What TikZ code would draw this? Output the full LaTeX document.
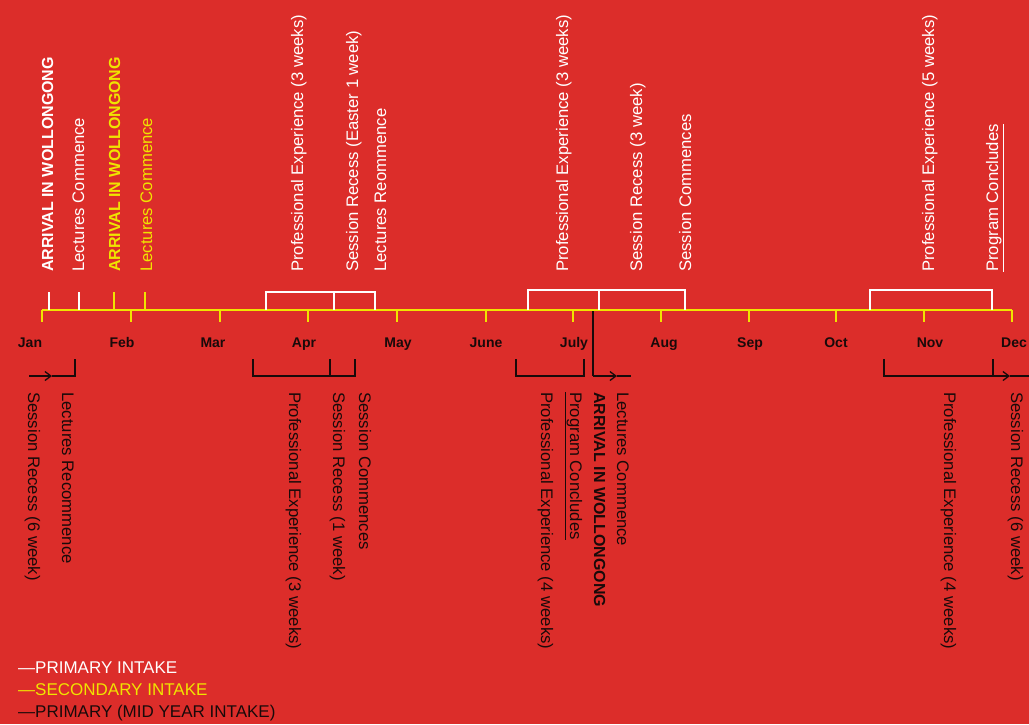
\documentclass[tikz,border=0pt]{standalone}
\usepackage{fontspec}
\setmainfont{Liberation Sans}
\usetikzlibrary{arrows.meta}
\definecolor{bg}{RGB}{220,45,42}
\definecolor{yel}{RGB}{240,228,0}
\definecolor{blk}{RGB}{25,10,10}
\tikzset{
  lbl/.style={inner sep=0pt, font=\fontsize{16.7}{18}\selectfont},
  bold/.style={font=\fontsize{16}{18}\selectfont\bfseries},
  up/.style={lbl, rotate=90, anchor=base west},
  dn/.style={lbl, rotate=-90, anchor=base west},
  month/.style={inner sep=0pt, anchor=base, text=blk, font=\fontsize{14}{16}\selectfont\bfseries},
  axisline/.style={draw=yel, line width=1.8pt},
  wline/.style={draw=white, line width=1.3pt},
  yline/.style={draw=yel, line width=1.3pt},
  kline/.style={draw=blk, line width=1.3pt},
  karrow/.style={kline, -{Straight Barb[length=6pt,width=9pt]}},
  legend/.style={inner sep=0pt, anchor=base west, font=\fontsize{17}{18}\selectfont},
}
\begin{document}
\begin{tikzpicture}[x=1pt,y=-1pt]
\fill[bg] (0,0) rectangle (1029,724);
\useasboundingbox (0,0) rectangle (1029,724);

% axis
\coordinate (a0) at (42,310);
\coordinate (a1) at (1012,310);
\draw[axisline] (a0) -- (a1);
\foreach \x in {42,131,220,308,397,486,573,661,749,836,924,1012}{
  \draw[yline] (\x,310) -- (\x,322);
}
% month labels
\node[month] (mJan) at (30,347) {Jan};
\node[month] (mFeb) at (122,347) {Feb};
\node[month] (mMar) at (213,347) {Mar};
\node[month] (mApr) at (304,347) {Apr};
\node[month] (mMay) at (398,347) {May};
\node[month] (mJun) at (486,347) {June};
\node[month] (mJul) at (574,347) {July};
\node[month] (mAug) at (664,347) {Aug};
\node[month] (mSep) at (750,347) {Sep};
\node[month] (mOct) at (836,347) {Oct};
\node[month] (mNov) at (930,347) {Nov};
\node[month,anchor=base west] (mDec) at (1001,347) {Dec};

% top markers
\draw[wline] (49,310) -- (49,292);
\draw[wline] (79,310) -- (79,292);
\draw[yline] (114,310) -- (114,292);
\draw[yline] (145,310) -- (145,292);
\draw[wline] (266,310) -- (266,292) -- (375,292) -- (375,310);
\draw[wline] (334,292) -- (334,310);
\draw[wline] (528,310) -- (528,290) -- (685,290) -- (685,310);
\draw[wline] (599,290) -- (599,310);
\draw[wline] (870,310) -- (870,290) -- (992,290) -- (992,310);

% top labels
\node[up,bold,text=white] (t1) at (53,272) {ARRIVAL IN WOLLONGONG};
\node[up,text=white] (t2) at (84,272) {Lectures Commence};
\node[up,bold,text=yel] (t3) at (120,272) {ARRIVAL IN WOLLONGONG};
\node[up,text=yel] (t4) at (152,272) {Lectures Commence};
\node[up,text=white] (t5) at (303,272) {Professional Experience (3 weeks)};
\node[up,text=white] (t6) at (358,272) {Session Recess (Easter 1 week)};
\node[up,text=white] (t7) at (386,272) {Lectures Reommence};
\node[up,text=white] (t8) at (568,272) {Professional Experience (3 weeks)};
\node[up,text=white] (t9) at (642,272) {Session Recess (3 week)};
\node[up,text=white] (t10) at (691,272) {Session Commences};
\node[up,text=white] (t11) at (934,272) {Professional Experience (5 weeks)};
\node[up,text=white] (t12) at (998,272) {\underline{Program Concludes}};

% bottom markers
\coordinate (j0) at (29,376);
\coordinate (j1) at (52,376);
\draw[karrow] (j0) -- (j1);
\draw[kline] (j1) -- (75,376) -- (75,359);
\draw[kline] (253,359) -- (253,376) -- (355,376) -- (355,359);
\draw[kline] (330,359) -- (330,376);
\draw[kline] (516,359) -- (516,376) -- (584,376) -- (584,359);
\coordinate (k0) at (593,311);
\coordinate (k1) at (593,376);
\coordinate (k2) at (617,376);
\draw[kline] (k0) -- (k1);
\draw[karrow] (k1) -- (k2);
\draw[kline] (k2) -- (631,376);
\draw[kline] (884,359) -- (884,376) -- (993,376) -- (993,359);
\coordinate (n1) at (1010,376);
\draw[karrow] (993,376) -- (n1);
\draw[kline] (n1) -- (1029,376);

% bottom labels
\node[dn,text=blk] (b1) at (28,392) {Session Recess (6 week)};
\node[dn,text=blk] (b2) at (62,392) {Lectures Recommence};
\node[dn,text=blk] (b3) at (289,392) {Professional Experience (3 weeks)};
\node[dn,text=blk] (b4) at (333,392) {Session Recess (1 week)};
\node[dn,text=blk] (b5) at (359,392) {Session Commences};
\node[dn,text=blk] (b6) at (541,392) {Professional Experience (4 weeks)};
\node[dn,text=blk] (b7) at (570,392) {\underline{Program Concludes}};
\node[dn,bold,text=blk] (b8) at (594,392) {ARRIVAL IN WOLLONGONG};
\node[dn,text=blk] (b9) at (617,392) {Lectures Commence};
\node[dn,text=blk] (b10) at (944,392) {Professional Experience (4 weeks)};
\node[dn,text=blk] (b11) at (1011,392) {Session Recess (6 week)};

% legend
\node[legend,text=white] (l1) at (18,673) {—PRIMARY INTAKE};
\node[legend,text=yel] (l2) at (18,695) {—SECONDARY INTAKE};
\node[legend,text=blk] (l3) at (18,717) {—PRIMARY (MID YEAR INTAKE)};
\end{tikzpicture}
\end{document}
